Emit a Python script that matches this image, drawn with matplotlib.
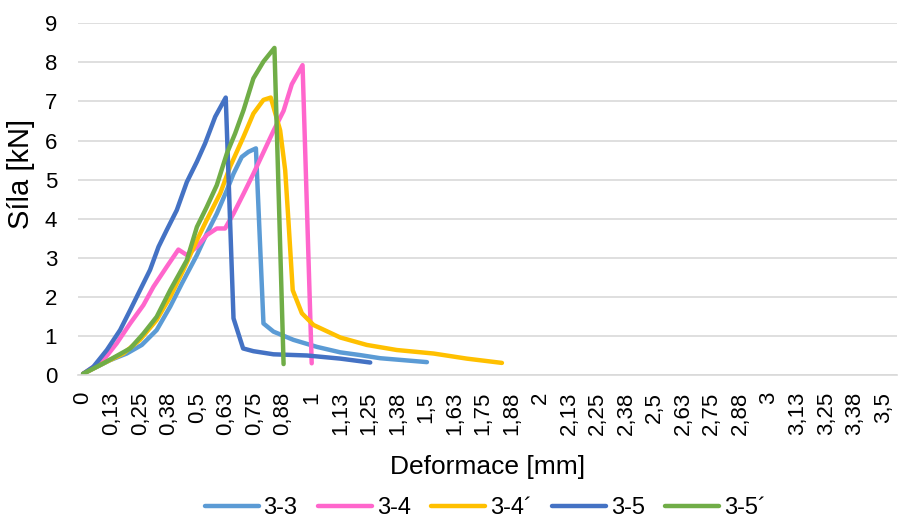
import matplotlib
matplotlib.use("Agg")
import matplotlib.pyplot as plt

plt.rcParams['font.family'] = ['Liberation Sans', 'DejaVu Sans']

# --- data (deformation [mm], force [kN]) ---
x_33 = [0, 0.118, 0.191, 0.257, 0.322, 0.381, 0.432, 0.498, 0.541, 0.585, 0.629,
        0.658, 0.694, 0.723, 0.756, 0.789, 0.833, 0.92, 1.023, 1.125, 1.212, 1.3, 1.504]
y_33 = [0.03, 0.38, 0.55, 0.77, 1.15, 1.75, 2.34, 3.07, 3.62, 4.13, 4.73,
        5.15, 5.58, 5.71, 5.80, 1.32, 1.11, 0.90, 0.72, 0.58, 0.51, 0.43, 0.33]

x_34 = [0, 0.089, 0.147, 0.206, 0.264, 0.308, 0.366, 0.417, 0.454, 0.498, 0.541,
        0.585, 0.621, 0.658, 0.702, 0.745, 0.789, 0.833, 0.877, 0.913, 0.96, 1.0]
y_34 = [0.03, 0.38, 0.81, 1.32, 1.79, 2.26, 2.77, 3.21, 3.07, 3.28, 3.58,
        3.75, 3.75, 4.13, 4.64, 5.15, 5.70, 6.25, 6.76, 7.44, 7.93, 0.30]

x_34b = [0, 0.089, 0.176, 0.249, 0.322, 0.381, 0.439, 0.498, 0.541, 0.60, 0.643,
         0.702, 0.745, 0.789, 0.821, 0.862, 0.884, 0.898, 0.917, 0.957, 1.008,
         1.125, 1.241, 1.372, 1.533, 1.678, 1.832]
y_34b = [0.03, 0.30, 0.55, 0.90, 1.41, 2.00, 2.69, 3.45, 3.97, 4.65, 5.33,
         6.10, 6.69, 7.04, 7.10, 6.26, 5.24, 3.97, 2.17, 1.58, 1.28,
         0.96, 0.77, 0.64, 0.55, 0.42, 0.31]

x_35 = [0, 0.045, 0.104, 0.162, 0.206, 0.249, 0.293, 0.33, 0.366, 0.41, 0.454,
        0.498, 0.534, 0.578, 0.624, 0.658, 0.70, 0.745, 0.833, 0.979, 1.125, 1.256]
y_35 = [0.03, 0.21, 0.64, 1.15, 1.66, 2.17, 2.69, 3.28, 3.71, 4.22, 4.94,
        5.46, 5.93, 6.61, 7.10, 1.45, 0.68, 0.61, 0.53, 0.50, 0.42, 0.32]

x_35b = [0, 0.089, 0.206, 0.264, 0.322, 0.381, 0.454, 0.498, 0.541, 0.585,
         0.629, 0.665, 0.702, 0.745, 0.789, 0.837, 0.877]
y_35b = [0.03, 0.30, 0.68, 1.06, 1.49, 2.17, 2.94, 3.79, 4.30, 4.86,
         5.67, 6.18, 6.78, 7.59, 8.02, 8.37, 0.28]

series = [
    ("3-3", x_33, y_33, "#5B9BD5"),
    ("3-4", x_34, y_34, "#FF66CC"),
    ("3-4\u00b4", x_34b, y_34b, "#FFC000"),
    ("3-5", x_35, y_35, "#4472C4"),
    ("3-5\u00b4", x_35b, y_35b, "#70AD47"),
]

x_ticks = [i * 0.125 for i in range(29)]
x_ticklabels = ["0", "0,13", "0,25", "0,38", "0,5", "0,63", "0,75", "0,88",
                "1", "1,13", "1,25", "1,38", "1,5", "1,63", "1,75", "1,88",
                "2", "2,13", "2,25", "2,38", "2,5", "2,63", "2,75", "2,88",
                "3", "3,13", "3,25", "3,38", "3,5"]
y_ticks = list(range(10))

# --- plot ---
fig = plt.figure(figsize=(9, 5.2), dpi=100)
ax = fig.add_axes([0.0867, 0.2788, 0.910, 0.6764])

for name, xs, ys, col in series:
    ax.plot(xs, ys, color=col, lw=3.2, label=name,
            solid_joinstyle='round', solid_capstyle='round')

ax.set_xlim(-0.022, 3.56)
ax.set_ylim(0, 9)
ax.set_xticks(x_ticks)
ax.set_xticklabels(x_ticklabels, rotation=90, fontsize=16)
ax.set_yticks(y_ticks)
ax.tick_params(axis='y', labelsize=16, length=0, pad=15)
ax.tick_params(axis='x', length=0, pad=12)
ax.grid(axis='y', color='#D9D9D9', lw=1.2)
ax.set_axisbelow(True)
for s in ['top', 'right', 'left']:
    ax.spines[s].set_visible(False)
ax.spines['bottom'].set_color('#D9D9D9')
ax.spines['bottom'].set_linewidth(1.2)

ax.set_xlabel("Deformace [mm]", fontsize=19)
ax.set_ylabel("Síla [kN]", fontsize=21)
ax.xaxis.label.set_va('center')
ax.yaxis.label.set_va('center')
ax.xaxis.set_label_coords(0.5, -0.262)
ax.yaxis.set_label_coords(-0.07, 0.572)

fig.legend(loc='center', bbox_to_anchor=(0.539, 0.023), ncol=5, frameon=False,
           fontsize=17, handlelength=2.3, handletextpad=0.2, columnspacing=0.85)

fig.savefig("out.png", dpi=100)
